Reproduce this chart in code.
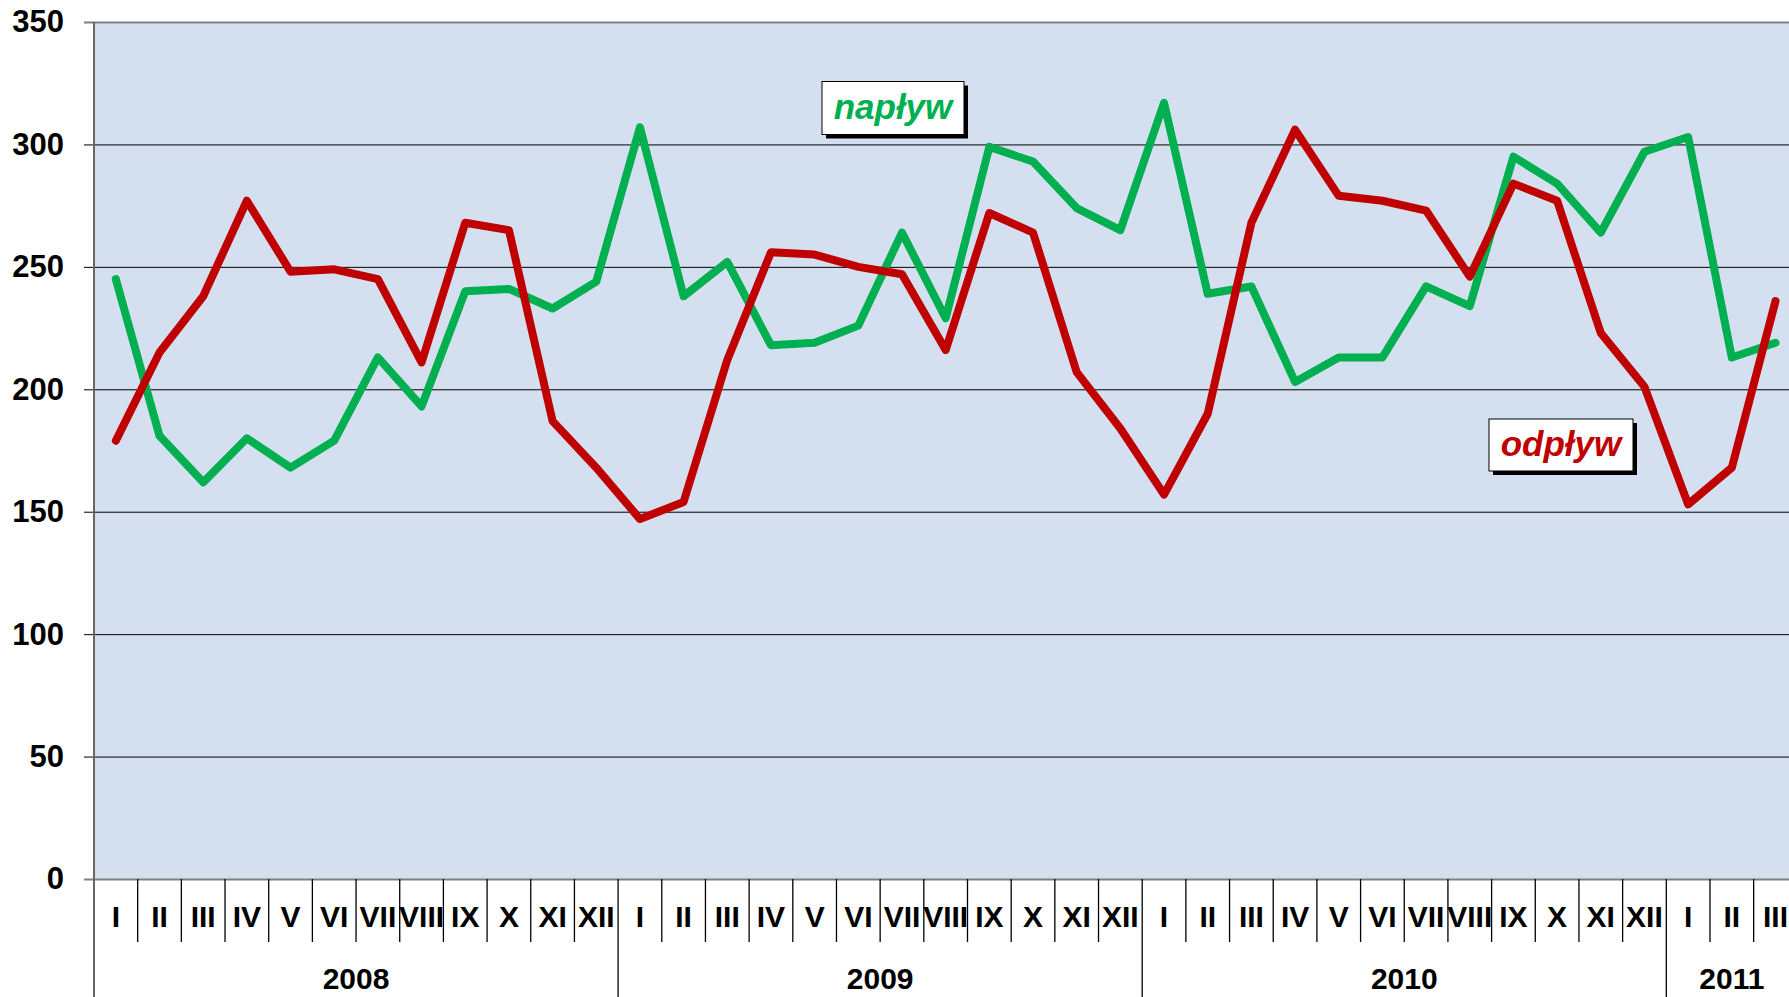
<!DOCTYPE html>
<html>
<head>
<meta charset="utf-8">
<script src="https://cdn.jsdelivr.net/npm/d3@7"></script>
<style>
  body { margin: 0; background: #fff; }
  svg { display: block; font-family: 'Liberation Sans', Arial, sans-serif; }
</style>
</head>
<body>
<div id="chart"></div>
<script>
// Data
let months = ['I', 'II', 'III', 'IV', 'V', 'VI', 'VII', 'VIII', 'IX', 'X', 'XI', 'XII']
let years = ['2008', '2009', '2010', '2011']
let monthsPerYear = [12, 12, 12, 3]

let naplyw = [
  245, 181, 162, 180, 168, 179, 213, 193, 240, 241, 233, 244,
  307, 238, 252, 218, 219, 226, 264, 229, 299, 293, 274, 265,
  317, 239, 242, 203, 213, 213, 242, 234, 295, 284, 264, 297,
  303, 213, 219
]
let odplyw = [
  179, 215, 238, 277, 248, 249, 245, 211, 268, 265, 187, 168,
  147, 154, 212, 256, 255, 250, 247, 216, 272, 264, 207, 184,
  157, 190, 268, 306, 279, 277, 273, 246, 284, 277, 223, 201,
  153, 168, 236
]
let yTicks = [0, 50, 100, 150, 200, 250, 300, 350]

// Set up sizes
let width = 1789
let height = 997
let margin = { top: 22, left: 94, bottom: 118 }
let monthWidth = 43.675

let svg = d3
  .select('#chart')
  .append('svg')
  .attr('width', width)
  .attr('height', height)

// Build month list with year info
let points = []
years.forEach((y, yi) => {
  for (let m = 0; m < monthsPerYear[yi]; m++) {
    points.push({ year: y, month: months[m] })
  }
})
points.forEach((d, i) => {
  d.i = i
  d.naplyw = naplyw[i]
  d.odplyw = odplyw[i]
})

// Scales
let xPositionScale = d3
  .scaleBand()
  .domain(points.map(d => d.i))
  .range([margin.left, margin.left + points.length * monthWidth])
  .padding(0)

let yPositionScale = d3
  .scaleLinear()
  .domain([0, 350])
  .range([height - margin.bottom, margin.top])

let plotRight = xPositionScale.range()[1]
let y0 = yPositionScale(0)

// Background
svg
  .append('rect')
  .attr('x', margin.left)
  .attr('y', margin.top)
  .attr('width', plotRight - margin.left)
  .attr('height', y0 - margin.top)
  .attr('fill', '#d4e0f0')

// Gridlines + y axis
let yAxis = d3
  .axisLeft(yPositionScale)
  .tickValues(yTicks)
  .tickSize(-(plotRight - margin.left))
  .tickPadding(30)

let yAxisG = svg
  .append('g')
  .attr('class', 'axis y-axis')
  .attr('transform', 'translate(' + margin.left + ',0)')
  .call(yAxis)

yAxisG.select('.domain').remove()
yAxisG
  .selectAll('.tick line')
  .attr('x1', -10)
  .attr('stroke', d => (d === 0 || d === 350 ? '#808080' : '#000'))
  .attr('stroke-width', d => (d === 0 || d === 350 ? 2 : 1))
yAxisG
  .selectAll('.tick text')
  .attr('font-size', 31)
  .attr('font-weight', 'bold')
  .attr('fill', '#000')
  .attr('font-family', "'Liberation Sans', Arial, sans-serif")

// Left axis line
svg
  .append('line')
  .attr('x1', margin.left)
  .attr('x2', margin.left)
  .attr('y1', margin.top)
  .attr('y2', height)
  .attr('stroke', '#666')
  .attr('stroke-width', 2)

// Month separators
svg
  .selectAll('.month-sep')
  .data(points.slice(1))
  .enter()
  .append('line')
  .attr('class', 'month-sep')
  .attr('x1', d => xPositionScale(d.i))
  .attr('x2', d => xPositionScale(d.i))
  .attr('y1', y0)
  .attr('y2', d => (d.month === 'I' ? height : y0 + 63))
  .attr('stroke', '#000')
  .attr('stroke-width', 1.3)

// Month labels
svg
  .selectAll('.month-label')
  .data(points)
  .enter()
  .append('text')
  .attr('class', 'month-label')
  .text(d => d.month)
  .attr('x', d => xPositionScale(d.i) + xPositionScale.bandwidth() / 2)
  .attr('y', y0 + 48)
  .attr('text-anchor', 'middle')
  .attr('font-size', 30)
  .attr('font-weight', 'bold')

// Year labels
let start = 0
years.forEach((y, yi) => {
  let n = monthsPerYear[yi]
  let x1 = xPositionScale(start)
  let x2 = x1 + n * xPositionScale.bandwidth()
  svg
    .append('text')
    .text(y)
    .attr('x', (x1 + x2) / 2)
    .attr('y', y0 + 110)
    .attr('text-anchor', 'middle')
    .attr('font-size', 30)
    .attr('font-weight', 'bold')
  start += n
})

// Lines
let lineFor = key =>
  d3
    .line()
    .x(d => xPositionScale(d.i) + xPositionScale.bandwidth() / 2)
    .y(d => yPositionScale(d[key]))

svg
  .append('path')
  .datum(points)
  .attr('d', lineFor('naplyw'))
  .attr('fill', 'none')
  .attr('stroke', '#00b050')
  .attr('stroke-width', 8)
  .attr('stroke-linejoin', 'round')
  .attr('stroke-linecap', 'round')

svg
  .append('path')
  .datum(points)
  .attr('d', lineFor('odplyw'))
  .attr('fill', 'none')
  .attr('stroke', '#c00000')
  .attr('stroke-width', 8)
  .attr('stroke-linejoin', 'round')
  .attr('stroke-linecap', 'round')

// Label boxes
function labelBox(text, cx, cy, w, h, color) {
  let g = svg.append('g')
  g.append('rect')
    .attr('x', cx - w / 2 + 4)
    .attr('y', cy - h / 2 + 4)
    .attr('width', w)
    .attr('height', h)
    .attr('fill', '#000')
  g.append('rect')
    .attr('x', cx - w / 2)
    .attr('y', cy - h / 2)
    .attr('width', w)
    .attr('height', h)
    .attr('fill', '#fff')
    .attr('stroke', '#000')
    .attr('stroke-width', 1)
  g.append('text')
    .text(text)
    .attr('x', cx)
    .attr('y', cy + 11)
    .attr('text-anchor', 'middle')
    .attr('font-size', 35)
    .attr('font-weight', 'bold')
    .attr('font-style', 'italic')
    .attr('fill', color)
}

labelBox('napływ', 893, 108, 142, 53, '#00b050')
labelBox('odpływ', 1561, 445, 144, 52, '#c00000')
</script>
</body>
</html>
